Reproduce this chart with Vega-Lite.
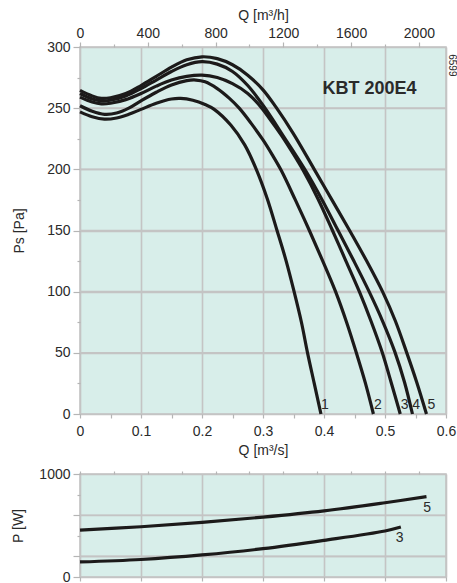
{
  "$schema": "https://vega.github.io/schema/vega-lite/v6.json",
  "padding": {"left": 11, "top": 7, "right": 0, "bottom": 0},
  "background": "white",
  "spacing": 8,
  "config": {
    "view": {"fill": "#d8eeea", "stroke": "#c2c2c2", "strokeWidth": 1.5},
    "axis": {
      "labelFont": "Liberation Sans", "titleFont": "Liberation Sans",
      "labelFontSize": 14, "titleFontSize": 14, "titleFontWeight": "normal",
      "labelColor": "#2a2a2a", "titleColor": "#2a2a2a",
      "tickColor": "#b5b5b5", "tickWidth": 1.2,
      "gridColor": "#c4c4c4", "gridWidth": 1.6, "domain": false,
      "labelOverlap": false, "labelFlush": false, "labelBound": false
    },
    "text": {"font": "Liberation Sans"}
  },
  "datasets": {
    "curves": [
      {"curve": "1", "Q": 0, "Ps": 247}, {"curve": "1", "Q": 0.02, "Ps": 243}, {"curve": "1", "Q": 0.04, "Ps": 241}, {"curve": "1", "Q": 0.06, "Ps": 242}, {"curve": "1", "Q": 0.08, "Ps": 245}, {"curve": "1", "Q": 0.1, "Ps": 249}, {"curve": "1", "Q": 0.125, "Ps": 254}, {"curve": "1", "Q": 0.15, "Ps": 257.5}, {"curve": "1", "Q": 0.165, "Ps": 258}, {"curve": "1", "Q": 0.185, "Ps": 256.5}, {"curve": "1", "Q": 0.205, "Ps": 253}, {"curve": "1", "Q": 0.22, "Ps": 249}, {"curve": "1", "Q": 0.2475, "Ps": 236}, {"curve": "1", "Q": 0.27, "Ps": 220}, {"curve": "1", "Q": 0.289, "Ps": 200}, {"curve": "1", "Q": 0.307, "Ps": 176}, {"curve": "1", "Q": 0.323, "Ps": 150}, {"curve": "1", "Q": 0.338, "Ps": 125}, {"curve": "1", "Q": 0.351, "Ps": 100}, {"curve": "1", "Q": 0.363, "Ps": 75}, {"curve": "1", "Q": 0.373, "Ps": 50}, {"curve": "1", "Q": 0.384, "Ps": 25}, {"curve": "1", "Q": 0.395, "Ps": 0},
      {"curve": "2", "Q": 0, "Ps": 252}, {"curve": "2", "Q": 0.02, "Ps": 247.5}, {"curve": "2", "Q": 0.04, "Ps": 245}, {"curve": "2", "Q": 0.06, "Ps": 246}, {"curve": "2", "Q": 0.08, "Ps": 250}, {"curve": "2", "Q": 0.1, "Ps": 256}, {"curve": "2", "Q": 0.125, "Ps": 263}, {"curve": "2", "Q": 0.15, "Ps": 269}, {"curve": "2", "Q": 0.175, "Ps": 272.5}, {"curve": "2", "Q": 0.19, "Ps": 273}, {"curve": "2", "Q": 0.205, "Ps": 271.5}, {"curve": "2", "Q": 0.225, "Ps": 266}, {"curve": "2", "Q": 0.245, "Ps": 258}, {"curve": "2", "Q": 0.261, "Ps": 250}, {"curve": "2", "Q": 0.28, "Ps": 238}, {"curve": "2", "Q": 0.3, "Ps": 224}, {"curve": "2", "Q": 0.315, "Ps": 212}, {"curve": "2", "Q": 0.33, "Ps": 199}, {"curve": "2", "Q": 0.353, "Ps": 175}, {"curve": "2", "Q": 0.376, "Ps": 150}, {"curve": "2", "Q": 0.398, "Ps": 125}, {"curve": "2", "Q": 0.419, "Ps": 100}, {"curve": "2", "Q": 0.437, "Ps": 75}, {"curve": "2", "Q": 0.453, "Ps": 50}, {"curve": "2", "Q": 0.468, "Ps": 25}, {"curve": "2", "Q": 0.481, "Ps": 0},
      {"curve": "3", "Q": 0, "Ps": 259}, {"curve": "3", "Q": 0.02, "Ps": 255}, {"curve": "3", "Q": 0.035, "Ps": 253.5}, {"curve": "3", "Q": 0.05, "Ps": 254}, {"curve": "3", "Q": 0.075, "Ps": 257}, {"curve": "3", "Q": 0.1, "Ps": 262}, {"curve": "3", "Q": 0.125, "Ps": 268}, {"curve": "3", "Q": 0.15, "Ps": 273}, {"curve": "3", "Q": 0.175, "Ps": 276}, {"curve": "3", "Q": 0.2, "Ps": 277}, {"curve": "3", "Q": 0.225, "Ps": 275}, {"curve": "3", "Q": 0.25, "Ps": 270}, {"curve": "3", "Q": 0.275, "Ps": 262}, {"curve": "3", "Q": 0.293, "Ps": 253}, {"curve": "3", "Q": 0.31, "Ps": 242}, {"curve": "3", "Q": 0.33, "Ps": 228}, {"curve": "3", "Q": 0.348, "Ps": 214}, {"curve": "3", "Q": 0.366, "Ps": 199}, {"curve": "3", "Q": 0.39, "Ps": 176}, {"curve": "3", "Q": 0.413, "Ps": 151}, {"curve": "3", "Q": 0.436, "Ps": 125}, {"curve": "3", "Q": 0.458, "Ps": 100}, {"curve": "3", "Q": 0.477, "Ps": 76}, {"curve": "3", "Q": 0.495, "Ps": 51}, {"curve": "3", "Q": 0.51, "Ps": 26}, {"curve": "3", "Q": 0.525, "Ps": 0},
      {"curve": "4", "Q": 0, "Ps": 262}, {"curve": "4", "Q": 0.02, "Ps": 257.5}, {"curve": "4", "Q": 0.035, "Ps": 256}, {"curve": "4", "Q": 0.05, "Ps": 256.5}, {"curve": "4", "Q": 0.075, "Ps": 260}, {"curve": "4", "Q": 0.1, "Ps": 266}, {"curve": "4", "Q": 0.125, "Ps": 273}, {"curve": "4", "Q": 0.15, "Ps": 280}, {"curve": "4", "Q": 0.175, "Ps": 285.5}, {"curve": "4", "Q": 0.2, "Ps": 288}, {"curve": "4", "Q": 0.225, "Ps": 286}, {"curve": "4", "Q": 0.25, "Ps": 280}, {"curve": "4", "Q": 0.275, "Ps": 268.5}, {"curve": "4", "Q": 0.302, "Ps": 251}, {"curve": "4", "Q": 0.335, "Ps": 226}, {"curve": "4", "Q": 0.371, "Ps": 198}, {"curve": "4", "Q": 0.397, "Ps": 175}, {"curve": "4", "Q": 0.422, "Ps": 151}, {"curve": "4", "Q": 0.449, "Ps": 125}, {"curve": "4", "Q": 0.474, "Ps": 100}, {"curve": "4", "Q": 0.496, "Ps": 76}, {"curve": "4", "Q": 0.516, "Ps": 51}, {"curve": "4", "Q": 0.532, "Ps": 26}, {"curve": "4", "Q": 0.545, "Ps": 0},
      {"curve": "5", "Q": 0, "Ps": 264.5}, {"curve": "5", "Q": 0.02, "Ps": 260}, {"curve": "5", "Q": 0.035, "Ps": 258}, {"curve": "5", "Q": 0.05, "Ps": 258.5}, {"curve": "5", "Q": 0.075, "Ps": 262}, {"curve": "5", "Q": 0.1, "Ps": 268.5}, {"curve": "5", "Q": 0.125, "Ps": 276}, {"curve": "5", "Q": 0.15, "Ps": 283.5}, {"curve": "5", "Q": 0.175, "Ps": 289.5}, {"curve": "5", "Q": 0.2, "Ps": 292}, {"curve": "5", "Q": 0.225, "Ps": 290.5}, {"curve": "5", "Q": 0.25, "Ps": 285.5}, {"curve": "5", "Q": 0.275, "Ps": 277}, {"curve": "5", "Q": 0.3, "Ps": 265}, {"curve": "5", "Q": 0.321, "Ps": 251}, {"curve": "5", "Q": 0.35, "Ps": 229}, {"curve": "5", "Q": 0.384, "Ps": 200}, {"curve": "5", "Q": 0.413, "Ps": 175}, {"curve": "5", "Q": 0.442, "Ps": 150}, {"curve": "5", "Q": 0.47, "Ps": 125}, {"curve": "5", "Q": 0.496, "Ps": 100}, {"curve": "5", "Q": 0.517, "Ps": 76}, {"curve": "5", "Q": 0.535, "Ps": 51}, {"curve": "5", "Q": 0.552, "Ps": 26}, {"curve": "5", "Q": 0.568, "Ps": 0}
    ],
    "curveLabels": [
      {"label": "1", "Q": 0.4016, "Ps": 7}, {"label": "2", "Q": 0.4885, "Ps": 7}, {"label": "3", "Q": 0.532, "Ps": 7}, {"label": "4", "Q": 0.551, "Ps": 7}, {"label": "5", "Q": 0.576, "Ps": 7}
    ],
    "psGrid": [{"Ps": 50}, {"Ps": 100}, {"Ps": 150}, {"Ps": 200}, {"Ps": 250}],
    "power": [
      {"curve": "5", "Q": 0, "P": 456}, {"curve": "5", "Q": 0.1, "P": 488}, {"curve": "5", "Q": 0.2, "P": 530}, {"curve": "5", "Q": 0.3, "P": 581}, {"curve": "5", "Q": 0.4, "P": 642}, {"curve": "5", "Q": 0.5, "P": 721}, {"curve": "5", "Q": 0.568, "P": 780},
      {"curve": "3", "Q": 0, "P": 146}, {"curve": "3", "Q": 0.1, "P": 170}, {"curve": "3", "Q": 0.2, "P": 214}, {"curve": "3", "Q": 0.3, "P": 275}, {"curve": "3", "Q": 0.4, "P": 356}, {"curve": "3", "Q": 0.5, "P": 447}, {"curve": "3", "Q": 0.526, "P": 485}
    ],
    "pGrid": [{"P": 200}, {"P": 600}],
    "powerLabels": [
      {"label": "5", "Q": 0.569, "P": 673}, {"label": "3", "Q": 0.524, "P": 379}
    ]
  },
  "vconcat": [
    {
      "width": 366,
      "height": 367,
      "resolve": {"axis": {"x": "independent", "y": "independent"}},
      "layer": [
        {
          "data": {"name": "psGrid"},
          "mark": {"type": "rule", "stroke": "#c4c4c4", "strokeWidth": 1.6},
          "encoding": {
            "x": {"datum": 0, "type": "quantitative", "scale": {"domain": [0, 0.6], "nice": false, "zero": false}, "axis": null},
            "x2": {"datum": 0.6},
            "y": {"field": "Ps", "type": "quantitative", "scale": {"domain": [0, 300], "nice": false}, "axis": null}
          }
        },
        {
          "data": {"name": "curves"},
          "mark": {"type": "line", "interpolate": "catmull-rom", "stroke": "#1c1a1a", "strokeWidth": 3.2},
          "encoding": {
            "x": {
              "field": "Q", "type": "quantitative",
              "scale": {"domain": [0, 0.6], "nice": false, "zero": false},
              "axis": {
                "orient": "bottom", "title": "Q [m³/s]",
                "values": [0, 0.05, 0.1, 0.15, 0.2, 0.25, 0.3, 0.35, 0.4, 0.45, 0.5, 0.55, 0.6],
                "labelExpr": "round(datum.value*20) % 2 === 0 ? format(datum.value, '.1~f') : ''",
                "tickSize": 4, "labelPadding": 6, "titlePadding": 5,
                "grid": true,
                "gridOpacity": {"condition": {"test": "round(datum.value*20) % 2 === 0", "value": 1}, "value": 0}
              }
            },
            "y": {
              "field": "Ps", "type": "quantitative",
              "scale": {"domain": [0, 300], "nice": false},
              "axis": {
                "orient": "left",
                "title": "Ps [Pa]",
                "values": [0, 50, 100, 150, 200, 250, 300],
                "format": "d",
                "tickSize": 7,
                "labelPadding": 3, "titlePadding": 20,
                "grid": true
              }
            },
            "detail": {"field": "curve"}
          }
        },
        {
          "data": {"name": "curveLabels"},
          "mark": {"type": "text", "fontSize": 14, "align": "center", "baseline": "middle", "color": "#2a2a2a"},
          "encoding": {
            "x": {
              "field": "Q", "type": "quantitative",
              "axis": {
                "orient": "top", "title": "Q [m³/h]",
                "values": [0, 0.1111111, 0.2222222, 0.3333333, 0.4444444, 0.5555556],
                "labelExpr": "format(round(datum.value*3600), 'd')",
                "tickSize": 5,
                "labelPadding": 2, "titlePadding": 4, "grid": false
              }
            },
            "y": {"field": "Ps", "type": "quantitative", "axis": null},
            "text": {"field": "label"}
          }
        },
        {
          "data": {"values": [{"t": "KBT 200E4", "Q": 0.4746, "Ps": 266}]},
          "mark": {"type": "text", "fontSize": 18, "fontWeight": "bold", "align": "center", "baseline": "middle", "color": "#2a2a2a"},
          "encoding": {
            "x": {
              "field": "Q", "type": "quantitative",
              "axis": {
                "orient": "top", "title": null,
                "values": [0.0555556, 0.1666667, 0.2777778, 0.3888889, 0.5],
                "labels": false, "tickSize": 3, "grid": false
              }
            },
            "y": {"field": "Ps", "type": "quantitative", "axis": null},
            "text": {"field": "t"}
          }
        },
        {
          "data": {"values": [{"t": "6599", "Q": 0.6095, "Ps": 285}]},
          "mark": {"type": "text", "fontSize": 10, "angle": 90, "align": "center", "baseline": "middle", "color": "#2a2a2a"},
          "encoding": {
            "x": {"field": "Q", "type": "quantitative", "axis": null},
            "y": {
              "field": "Ps", "type": "quantitative",
              "axis": {
                "orient": "left", "title": null,
                "values": [25, 75, 125, 175, 225, 275],
                "labels": false, "tickSize": 3, "grid": false
              }
            },
            "text": {"field": "t"}
          }
        }
      ]
    },
    {
      "width": 366,
      "height": 103,
      "resolve": {"axis": {"x": "independent", "y": "independent"}},
      "layer": [
        {
          "data": {"name": "pGrid"},
          "mark": {"type": "rule", "stroke": "#c4c4c4", "strokeWidth": 1.6},
          "encoding": {
            "x": {"datum": 0, "type": "quantitative", "scale": {"domain": [0, 0.6], "nice": false, "zero": false}, "axis": null},
            "x2": {"datum": 0.6},
            "y": {"field": "P", "type": "quantitative", "scale": {"domain": [0, 1000], "nice": false}, "axis": null}
          }
        },
        {
          "data": {"name": "power"},
          "mark": {"type": "line", "interpolate": "catmull-rom", "stroke": "#1c1a1a", "strokeWidth": 3.2},
          "encoding": {
            "x": {
              "field": "Q", "type": "quantitative",
              "scale": {"domain": [0, 0.6], "nice": false, "zero": false},
              "axis": {
                "orient": "bottom", "title": null,
                "values": [0, 0.1, 0.2, 0.3, 0.4, 0.5, 0.6],
                "labels": false, "tickSize": 4, "grid": true
              }
            },
            "y": {
              "field": "P", "type": "quantitative",
              "scale": {"domain": [0, 1000], "nice": false},
              "axis": {
                "orient": "left",
                "title": "P [W]",
                "values": [0, 200, 600, 1000],
                "labelExpr": "datum.value === 0 || datum.value === 1000 ? format(datum.value, 'd') : ''",
                "tickSize": 7,
                "labelPadding": 3, "titlePadding": 13,
                "grid": true
              }
            },
            "detail": {"field": "curve"}
          }
        },
        {
          "data": {"name": "powerLabels"},
          "mark": {"type": "text", "fontSize": 14, "align": "center", "baseline": "middle", "color": "#2a2a2a"},
          "encoding": {
            "x": {
              "field": "Q", "type": "quantitative",
              "axis": {
                "orient": "top", "title": null,
                "values": [0, 0.0555556, 0.1111111, 0.1666667, 0.2222222, 0.2777778, 0.3333333, 0.3888889, 0.4444444, 0.5, 0.5555556],
                "labels": false, "tickSize": 3, "grid": false
              }
            },
            "y": {
              "field": "P", "type": "quantitative",
              "axis": {
                "orient": "left", "title": null,
                "values": [400, 800],
                "labels": false, "tickSize": 3, "grid": false
              }
            },
            "text": {"field": "label"}
          }
        }
      ]
    }
  ]
}
